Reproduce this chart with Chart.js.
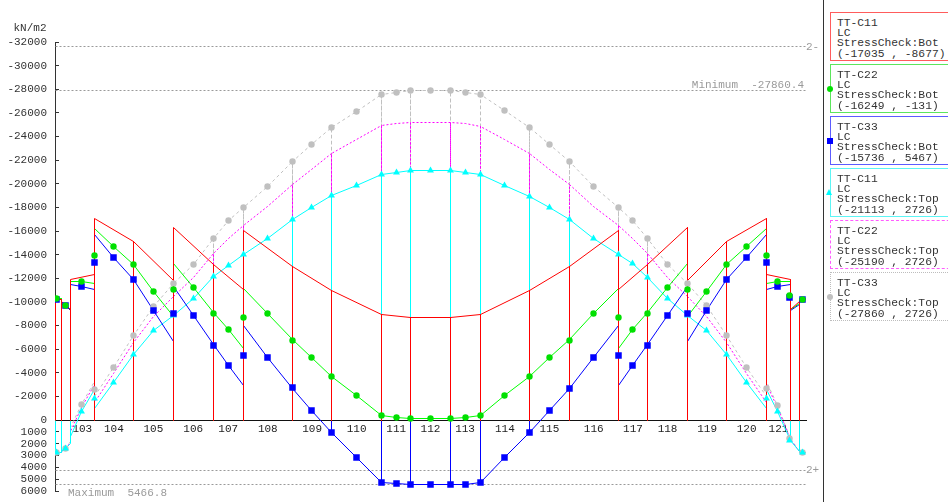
<!DOCTYPE html>
<html>
<head>
<meta charset="utf-8">
<script src="https://cdn.jsdelivr.net/npm/chart.js"></script>
<style>
  html, body { margin: 0; padding: 0; background: #fff; }
  body { width: 948px; height: 502px; overflow: hidden; position: relative; font-family: 'Liberation Mono', 'DejaVu Sans Mono', monospace; }
  #c { position: absolute; left: 0; top: 0; }
  #sep { position: absolute; left: 823px; top: 0; width: 1px; height: 502px; background: #333; }
  .box { position: absolute; left: 830px; width: 130px; height: 49px; box-sizing: border-box; padding: 5px 0 0 6px;
         font-size: 11.3px; line-height: 10.2px; color: #333; white-space: pre; background: #fff; }
  .ico { position: absolute; }
</style>
</head>
<body>
<canvas id="c" width="948" height="502"></canvas>
<div id="sep"></div>
<div id="legend"></div>
<script>
// ---------------- data ----------------
// node positions along the girder (m), elements 101..123 lie between consecutive nodes
const nodeX = [0, 0.6, 1.55, 3.9, 7.85, 11.8, 15.8, 18.8, 23.7, 27.65, 32.6, 35.55, 39.45, 42.45, 47.4, 51.35, 56.25, 59.2, 63.15, 67.1, 71.05, 73.45, 74.4, 75.0];
const elementNames = ['101','102','103','104','105','106','107','108','109','110','111','112','113','114','115','116','117','118','119','120','121','122','123'];
// output sections (m)
const sectionX = [0.12, 1.02, 2.68, 3.9, 5.85, 7.85, 9.83, 11.8, 13.8, 15.8, 17.3, 18.8, 21.25, 23.7, 25.65, 27.65, 30.1, 32.6, 34.1, 35.55, 37.5, 39.45, 40.95, 42.45, 44.9, 47.4, 49.4, 51.35, 53.8, 56.25, 57.7, 59.2, 61.2, 63.15, 65.1, 67.1, 69.1, 71.05, 72.2, 73.4, 74.7];
const yTickValues = [-32000, -30000, -28000, -26000, -24000, -22000, -20000, -18000, -16000, -14000, -12000, -10000, -8000, -6000, -4000, -2000, 0, 1000, 2000, 3000, 4000, 5000, 6000];
const unitLabel = 'kN/m2';

// TT-C11 Bot (i-end / j-end of each element)
const c11BotI = [-10200, -10000, -11920, -17035, -15106, -16266, -13191, -16071, -12988, -10929, -8955, -8677, -8677, -8955, -10929, -12988, -11014, -13191, -11802, -15106, -12344, -9320, -10170];
const c11BotJ = [-10200, -9320, -12344, -15106, -11802, -13191, -11014, -12988, -10929, -8955, -8677, -8677, -8955, -10929, -12988, -16071, -13191, -16266, -15106, -17035, -11870, -10000, -10170];

// TT-C22 Bot
const c22BotI = [-10250, -9900, -11700, -16249, -13132, -13216, -9100, -11150, -6850, -3668, -364, -131, -131, -364, -3668, -6850, -6075, -9100, -8800, -13132, -11550, -9400, -10250];
const c22BotJ = [-10250, -9400, -11550, -13132, -8800, -9100, -6075, -6850, -3668, -364, -131, -131, -364, -3668, -6850, -11150, -9100, -13216, -13132, -16249, -11700, -9900, -10250];
const c22BotSec = [-10250, -9740, -11717, -13950, -14682, -13132, -10904, -11073, -11209, -9040, -7684, -8667, -9006, -6778, -5278, -3668, -2059, -364, -229, -131, -131, -131, -229, -364, -2059, -3668, -5278, -6778, -9006, -8667, -7684, -9040, -11209, -11073, -10904, -13132, -14682, -13920, -11717, -10530, -10170];

// TT-C33 Bot
const c33BotI = [-10166, -9750, -11496, -15736, -11861, -11300, -6400, -8000, -2700, 1076, 5253, 5467, 5467, 5253, 1076, -2700, -2900, -6400, -6634, -11861, -11073, -9250, -10166];
const c33BotJ = [-10166, -9250, -11073, -11861, -6634, -6400, -2900, -2700, 1076, 5253, 5467, 5467, 5253, 1076, -2700, -8000, -6400, -11300, -11861, -15736, -11496, -9750, -10166];
const c33BotSec = [-10166, -9658, -11293, -13361, -13784, -11861, -9260, -9006, -8870, -6354, -4600, -5448, -5312, -2770, -847, 1076, 3135, 5253, 5397, 5467, 5467, 5467, 5420, 5300, 3193, 1076, -819, -2654, -5312, -5448, -4600, -6354, -8870, -9006, -9260, -11861, -13784, -13361, -11293, -10361, -10166];

// TT-C11 Top
const c11TopI = [2726, 2650, 1400, -950, -5592, -8811, -12141, -14000, -16944, -18977, -20756, -21113, -21095, -20756, -18920, -16944, -14038, -12088, -8811, -5592, -2626, 1700, 2726];
const c11TopJ = [2700, 2000, -2626, -5592, -8811, -12141, -14000, -16944, -18977, -20756, -21095, -21113, -20756, -18920, -16944, -14038, -12088, -8811, -5592, -950, 1700, 2650, 2726];
const c11TopSec = [2726, 2400, -703, -1838, -3194, -5592, -7568, -8811, -10310, -12141, -13100, -14000, -15334, -16944, -17986, -18977, -19850, -20756, -20951, -21095, -21113, -21095, -20951, -20756, -19850, -18920, -17986, -16944, -15334, -14038, -13276, -12088, -10310, -8811, -7625, -5566, -3194, -1838, -762, 1694, 2726];

// TT-C22 Top
const c22TopI = [2726, 2650, 1000, -1500, -6570, -10460, -14100, -16430, -19960, -22535, -24908, -25190, -25190, -24875, -22535, -19960, -16430, -14100, -10460, -6570, -3000, 1600, 2726];
const c22TopJ = [2700, 1900, -3000, -6570, -10460, -14100, -16430, -19960, -22535, -24908, -25190, -25190, -24875, -22535, -19960, -16430, -14100, -10460, -6570, -1500, 1600, 2650, 2726];
const c22TopSec = [2726, 2400, -1070, -2250, -3950, -6570, -8810, -10460, -12030, -14100, -15410, -16430, -18040, -19960, -21226, -22535, -23722, -24908, -25106, -25190, -25190, -25190, -25106, -24875, -23722, -22535, -21226, -19960, -18040, -16430, -15410, -14100, -12030, -10460, -8810, -6570, -3950, -2250, -1070, 1550, 2726];

// TT-C33 Top
const c33TopI = [2726, 2650, 600, -2000, -7201, -11522, -15360, -17986, -21883, -24764, -27594, -27860, -27860, -27594, -24764, -21883, -17986, -15334, -11522, -7201, -3300, 1553, 2726];
const c33TopJ = [2700, 1800, -3300, -7201, -11522, -15360, -17986, -21883, -24764, -27594, -27860, -27860, -27594, -24764, -21883, -17986, -15334, -11522, -7201, -2000, 1553, 2650, 2726];
const c33TopSec = [2726, 2400, -1300, -2626, -4431, -7201, -9599, -11522, -13132, -15360, -16885, -17986, -19766, -21883, -23298, -24764, -26120, -27594, -27763, -27860, -27860, -27860, -27763, -27594, -26205, -24764, -23357, -21883, -19766, -17986, -16885, -15334, -13132, -11522, -9684, -7201, -4431, -2686, -1271, 1553, 2726];

// legend
const seriesNames = ['TT-C11', 'TT-C22', 'TT-C33', 'TT-C11', 'TT-C22', 'TT-C33'];
const loadCaseName = 'LC';
const checkNames = ['StressCheck:Bot', 'StressCheck:Bot', 'StressCheck:Bot', 'StressCheck:Top', 'StressCheck:Top', 'StressCheck:Top'];
const rangeMin = [-17035, -16249, -15736, -21113, -25190, -27860];
const rangeMax = [-8677, -131, 5467, 2726, 2726, 2726];

// reference lines
const limitValues = [-31600, 4260];
const limitNames = ['2-', '2+'];
const extremeValues = [-27860.4, 5466.8];
const extremeNames = ['Minimum', 'Maximum'];

// ---------------- build ----------------
const FONT = "'Liberation Mono', 'DejaVu Sans Mono', monospace";
function diagram(I, J, sec) {
  const pts = [];
  for (let e = 0; e < I.length; e++) {
    const xi = nodeX[e], xj = nodeX[e + 1];
    pts.push({x: xi, y: 0}, {x: xi, y: I[e]});
    if (sec) sectionX.forEach((sx, k) => { if (sx > xi + 0.15 && sx < xj - 0.15) pts.push({x: sx, y: sec[k]}); });
    pts.push({x: xj, y: J[e]}, {x: xj, y: 0}, {x: xj, y: null});
  }
  return pts;
}
const marks = sec => sectionX.map((x, k) => ({x: x, y: sec[k]}));
const lineDs = (label, pts, color, dash) => ({label, data: pts, showLine: true, borderColor: color, backgroundColor: color,
  borderWidth: 1, borderDash: dash || [], pointRadius: 0, fill: false, tension: 0, spanGaps: false});
const markDs = (label, pts, color, style, r) => ({label, data: pts, showLine: false, pointStyle: style, pointRadius: r,
  pointBackgroundColor: color, pointBorderColor: color, pointBorderWidth: 0});
const refDs = v => ({label: 'ref', data: [{x: nodeX[0], y: v}, {x: nodeX[nodeX.length - 1], y: v}], showLine: true,
  borderColor: '#9a9a9a', borderWidth: 1, borderDash: [2, 2], pointRadius: 0});

const COL = {red: '#ff0000', green: '#00ff00', greenMk: '#00e000', blue: '#0000ff', cyan: '#00ffff', mag: '#ff00ff', gray: '#c0c0c0'};

const datasets = [
  markDs('C22 Bot', marks(c22BotSec), COL.greenMk, 'circle', 3.2),
  markDs('C33 Bot', marks(c33BotSec), COL.blue, 'rect', 4.6),
  markDs('C11 Top', marks(c11TopSec), COL.cyan, 'triangle', 4),
  markDs('C33 Top', marks(c33TopSec), COL.gray, 'circle', 3.2),
  lineDs('TT-C11 Bot', diagram(c11BotI, c11BotJ, null), COL.red),
  lineDs('TT-C22 Bot', diagram(c22BotI, c22BotJ, c22BotSec), COL.green),
  lineDs('TT-C33 Bot', diagram(c33BotI, c33BotJ, c33BotSec), COL.blue),
  lineDs('TT-C11 Top', diagram(c11TopI, c11TopJ, c11TopSec), COL.cyan),
  lineDs('TT-C22 Top', diagram(c22TopI, c22TopJ, c22TopSec), COL.mag, [2, 2]),
  lineDs('TT-C33 Top', diagram(c33TopI, c33TopJ, c33TopSec), COL.gray, [3, 3]),
  refDs(limitValues[0]), refDs(extremeValues[0]), refDs(limitValues[1]), refDs(extremeValues[1])
];

// snap the library-computed point pixels to the pixel grid so 1px lines stay crisp
const snapPlugin = {
  id: 'snap',
  beforeDatasetsDraw(chart) {
    chart.getSortedVisibleDatasetMetas().forEach(meta => {
      meta.data.forEach(p => {
        if (isFinite(p.x)) p.x = Math.floor(p.x) + 0.5;
        if (isFinite(p.y)) p.y = Math.floor(p.y) + 0.5;
      });
    });
  }
};

const textPlugin = {
  id: 'texts',
  afterDraw(chart) {
    const {ctx, chartArea} = chart;
    const ys = chart.scales.y;
    ctx.save();
    ctx.font = '11px ' + FONT;
    ctx.textBaseline = 'middle';
    ctx.fillStyle = '#333';
    ctx.textAlign = 'center';
    ctx.fillText(unitLabel, 30, 28);
    ctx.fillStyle = '#9a9a9a';
    ctx.textAlign = 'left';
    limitValues.forEach((v, k) => ctx.fillText(limitNames[k], chartArea.right, ys.getPixelForValue(v)));
    ctx.textAlign = 'right';
    ctx.fillText(extremeNames[0] + '  ' + extremeValues[0], chartArea.right - 2, ys.getPixelForValue(extremeValues[0]) - 6);
    ctx.textAlign = 'left';
    ctx.fillText(extremeNames[1] + '  ' + extremeValues[1], chartArea.left + 13, ys.getPixelForValue(extremeValues[1]) + 8);
    ctx.restore();
  }
};

new Chart(document.getElementById('c'), {
  type: 'scatter',
  data: {datasets},
  plugins: [snapPlugin, textPlugin],
  options: {
    responsive: false, animation: false, events: [], devicePixelRatio: 1,
    layout: {padding: {left: 0, right: 142, top: 42, bottom: 11}},
    plugins: {legend: {display: false}, tooltip: {enabled: false}},
    scales: {
      x: {
        type: 'linear', min: nodeX[0], max: nodeX[nodeX.length - 1], position: {y: 0},
        grid: {display: false, drawTicks: false},
        border: {display: true, color: '#111', width: 1},
        afterBuildTicks: s => {
          const t = [];
          elementNames.forEach((n, e) => { if (nodeX[e + 1] - nodeX[e] > 2) t.push({value: (nodeX[e] + nodeX[e + 1]) / 2, name: n}); });
          s.ticks = t;
        },
        ticks: {autoSkip: false, maxRotation: 0, padding: 2, color: '#222', font: {family: FONT, size: 11},
          callback: (v, i, t) => t[i].name}
      },
      y: {
        type: 'linear', reverse: true, min: yTickValues[0], max: yTickValues[yTickValues.length - 1],
        afterFit: s => { s.width = 55; s.paddingTop = 0; s.paddingBottom = 0; },
        afterBuildTicks: s => { s.ticks = yTickValues.map(v => ({value: v})); },
        grid: {drawOnChartArea: false, drawTicks: true, tickLength: -4, color: '#333'},
        border: {display: true, color: '#333', width: 1},
        ticks: {autoSkip: false, padding: 12, color: '#333', font: {family: FONT, size: 11}, callback: v => String(v)}
      }
    }
  }
});

// ---------------- HTML legend ----------------
const legendStyles = [
  {border: '1px solid #ff5c5c', icon: null},
  {border: '1px solid #5ce65c', icon: {shape: 'circle', color: COL.greenMk}},
  {border: '1px solid #5c5cff', icon: {shape: 'square', color: COL.blue}},
  {border: '1px solid #5cf5f5', icon: {shape: 'triangle', color: COL.cyan}},
  {border: '1px dashed #ff5cff', icon: null},
  {border: '1px dotted #bdbdbd', icon: {shape: 'circle', color: COL.gray}}
];
const legend = document.getElementById('legend');
seriesNames.forEach((name, i) => {
  const top = 12 + i * 52;
  const box = document.createElement('div');
  box.className = 'box';
  box.style.top = top + 'px';
  box.style.border = legendStyles[i].border;
  box.textContent = name + '\n' + loadCaseName + '\n' + checkNames[i] + '\n(' + rangeMin[i] + ' , ' + rangeMax[i] + ')';
  legend.appendChild(box);
  const ic = legendStyles[i].icon;
  if (ic) {
    const d = document.createElement('div');
    d.className = 'ico';
    if (ic.shape === 'triangle') {
      d.style.cssText = 'left:826px;top:' + (top + 21) + 'px;width:0;height:0;border-left:3.5px solid transparent;border-right:3.5px solid transparent;border-bottom:6px solid ' + ic.color + ';';
    } else {
      d.style.cssText = 'left:826.5px;top:' + (top + 21.5) + 'px;width:6px;height:6px;background:' + ic.color + ';' + (ic.shape === 'circle' ? 'border-radius:50%;' : '');
    }
    legend.appendChild(d);
  }
});
</script>
</body>
</html>
